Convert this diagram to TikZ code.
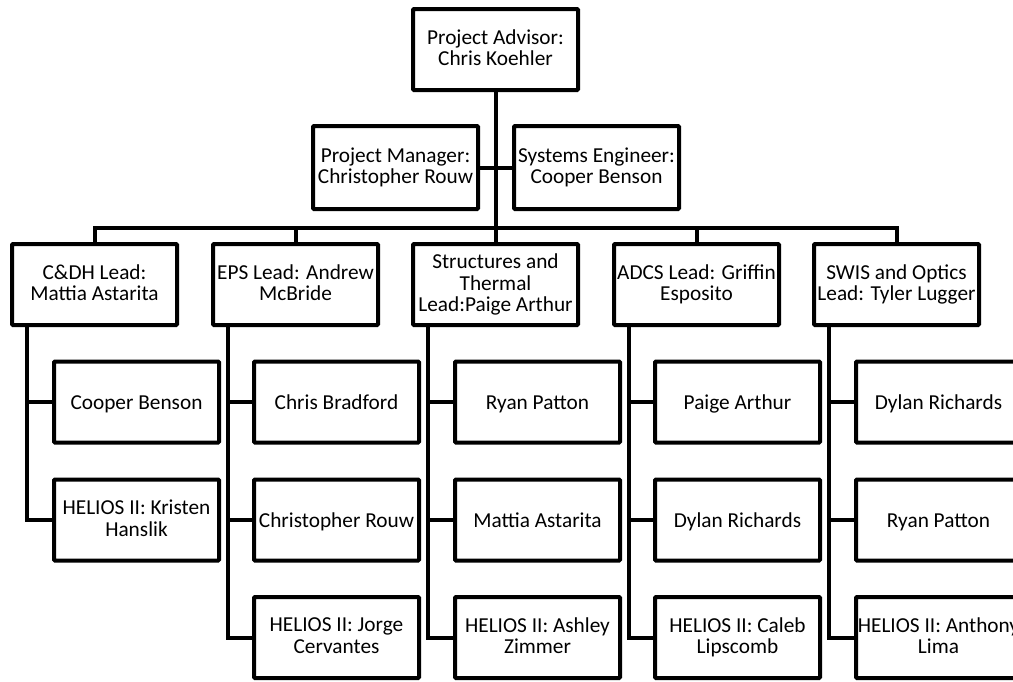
\documentclass[tikz,border=0pt]{standalone}
\usepackage{fontspec}
\setmainfont{Carlito}
\newcommand{\topstrut}{\rule{0pt}{18pt}}
\newcommand{\botstrut}{\rule[-3.6pt]{0pt}{3.6pt}}
\begin{document}
\begin{tikzpicture}[x=1pt,y=-1pt,
  box/.style={draw=black,line width=4pt,rounded corners=1pt,minimum width=165pt,minimum height=81pt,inner sep=0pt,align=center,font=\fontsize{21.3}{21.6}\selectfont,execute at begin node=\topstrut,execute at end node=\botstrut},
  link/.style={draw=black,line width=4pt}]
\useasboundingbox (0,0) rectangle (1013,681);
\node[box] (top) at (495.5,49.5) {Project Advisor:\\Chris Koehler};
\node[box,minimum height=83pt] (pm) at (395.5,167.5) {Project Manager:\\Christopher Rouw};
\node[box,minimum height=83pt] (se) at (596.5,167.5) {Systems Engineer:\\Cooper Benson};
\node[box] (L1) at (94.5,284.5) {C\&DH Lead:\\Mattia Astarita};
\node[box] (L2) at (295.5,284.5) {EPS Lead: Andrew\\McBride};
\node[box] (L3) at (495.5,284.5) {Structures and\\Thermal\\Lead:Paige Arthur};
\node[box] (L4) at (696.5,284.5) {ADCS Lead: Griffin\\Esposito};
\node[box] (L5) at (896.5,284.5) {SWIS and Optics\\Lead: Tyler Lugger};
\node[box] (C11) at (136.5,402) {Cooper Benson};
\node[box] (C12) at (136.5,520) {HELIOS II: Kristen\\Hanslik};
\node[box] (C21) at (336.5,402) {Chris Bradford};
\node[box] (C22) at (336.5,520) {Christopher Rouw};
\node[box] (C23) at (336.5,637.5) {HELIOS II: Jorge\\Cervantes};
\node[box] (C31) at (537.5,402) {Ryan Patton};
\node[box] (C32) at (537.5,520) {Mattia Astarita};
\node[box] (C33) at (537.5,637.5) {HELIOS II: Ashley\\Zimmer};
\node[box] (C41) at (737.5,402) {Paige Arthur};
\node[box] (C42) at (737.5,520) {Dylan Richards};
\node[box] (C43) at (737.5,637.5) {HELIOS II: Caleb\\Lipscomb};
\node[box] (C51) at (938.5,402) {Dylan Richards};
\node[box] (C52) at (938.5,520) {Ryan Patton};
\node[box] (C53) at (938.5,637.5) {HELIOS II: Anthony\\Lima};
\coordinate (bus) at (495.5,228);
\draw[link] (top.south) -- (L3.north);
\draw[link] (pm.east) -- (se.west);
\draw[link] (L1.north) |- (bus) -| (L5.north);
\draw[link] (L2.north) |- (bus);
\draw[link] (L4.north) |- (bus);
\foreach \l/\a/\b/\c in {L1/C11/C12/C12,L2/C21/C22/C23,L3/C31/C32/C33,L4/C41/C42/C43,L5/C51/C52/C53}{
  \draw[link] ([xshift=17pt]\l.south west) |- (\c.west);
  \draw[link] ([xshift=17pt]\l.south west) |- (\a.west);
  \draw[link] ([xshift=17pt]\l.south west) |- (\b.west);
}
\end{tikzpicture}
\end{document}
